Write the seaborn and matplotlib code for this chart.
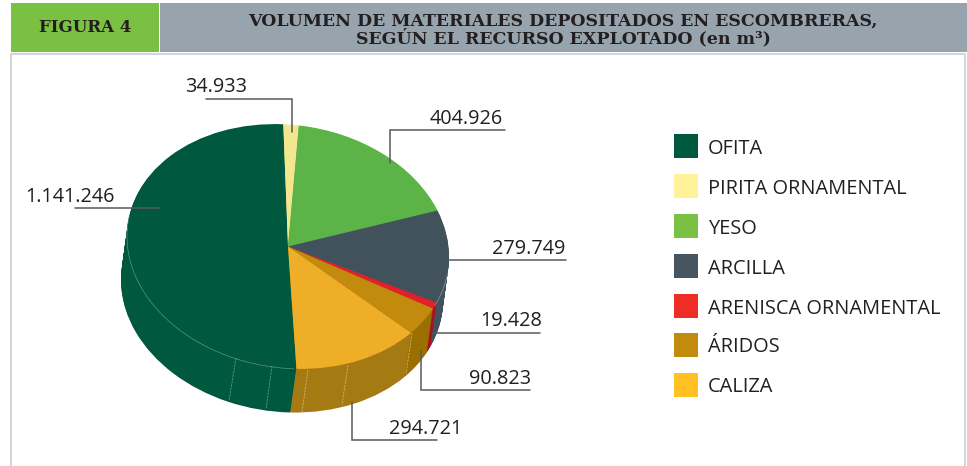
import matplotlib
matplotlib.use('Agg')
import matplotlib.pyplot as plt
import numpy as np
import seaborn as sns
from matplotlib.patches import Rectangle
from matplotlib.transforms import Affine2D

sns.set_theme(style='white')
plt.rcParams['font.family'] = ['Open Sans', 'DejaVu Sans']

W, H = 967, 466

categories = ['OFITA', 'PIRITA ORNAMENTAL', 'YESO', 'ARCILLA',
              'ARENISCA ORNAMENTAL', 'ÁRIDOS', 'CALIZA']
volumes = [1141246, 34933, 404926, 279749, 19428, 90823, 294721]
value_labels = ['1.141.246', '34.933', '404.926', '279.749', '19.428', '90.823', '294.721']

top_colors = ['#00583f', '#f2e68f', '#5cb347', '#41525d', '#e31f2b', '#c38b0e', '#efae27']
side_colors = ['#00583f', '#f2e68f', '#5cb347', '#41525d', '#b00e20', '#9a6f00', '#a67a12']
legend_colors = ['#00583f', '#fff29a', '#7ac143', '#46555f', '#ee2e24', '#c38b0e', '#ffc222']

# pie geometry in pixels
CX, CY, RX, RY = 288, 246.5, 161, 122
DEPTH_X, DEPTH_Y = -6, 44
TILT = 10  # the original ellipse leans a little, right side lower
START = 273


def px_axes(left, top, right, bottom):
    return fig.add_axes([left / W, 1 - bottom / H, (right - left) / W, (bottom - top) / H])


def overlay(z):
    a = fig.add_axes([0, 0, 1, 1])
    a.set_zorder(z)
    a.patch.set_alpha(0)
    a.set_xlim(0, W)
    a.set_ylim(H, 0)
    a.axis('off')
    return a


fig = plt.figure(figsize=(W / 100, H / 100), dpi=100)

# header and frame
bg = overlay(1)
bg.add_patch(Rectangle((11, 3), 148, 49, color='#7ac143', lw=0))
bg.add_patch(Rectangle((160, 3), 807, 49, color='#97a3ad', lw=0))
bg.plot([11, 11, 965, 965], [466, 53.5, 53.5, 466], color='#c5d0da', lw=1.2)
bg.text(85, 28, 'FIGURA 4', ha='center', va='center', fontsize=12, fontweight='bold',
        family='DejaVu Serif', color='#231f20')
bg.text(563, 21, 'VOLUMEN DE MATERIALES DEPOSITADOS EN ESCOMBRERAS,', ha='center', va='center',
        fontsize=12.5, fontweight='bold', family='DejaVu Serif', color='#231f20')
bg.text(563, 38.5, 'SEGÚN EL RECURSO EXPLOTADO (en m³)', ha='center', va='center',
        fontsize=12.5, fontweight='bold', family='DejaVu Serif', color='#231f20')

# 3D pie: stacked pies for the wall, then the top
ax = px_axes(100, 100, 480, 430)
ax.set_zorder(2)
ax.patch.set_alpha(0)
for k in range(DEPTH_Y, 0, -1):
    t = k / DEPTH_Y
    ax.pie(volumes, colors=side_colors, startangle=START, counterclock=False, radius=1,
           center=(DEPTH_X * t / RX, -DEPTH_Y * t / RY),
           wedgeprops=dict(linewidth=0))
ax.pie(volumes, colors=top_colors, startangle=START, counterclock=False, radius=1,
       wedgeprops=dict(linewidth=0))
ax.set_aspect('auto')
ax.set_xlim((100 - CX) / RX, (480 - CX) / RX)
ax.set_ylim((CY - 430) / RY, (CY - 100) / RY)
ax.axis('off')

lean = Affine2D.from_values(1, -TILT / RY, 0, 1, 0, 0) + ax.transData
for w in ax.patches:
    w.set_transform(lean)

# thin light rim on the top face
for a1, a2, col in [(170, 272, '#5a9683'), (-24, -8, '#8a99a3')]:
    ang = np.radians(np.linspace(a1, a2, 80))
    ax.plot(np.cos(ang), np.sin(ang), color=col, lw=0.5, transform=lean)

fg = overlay(3)

# seams on the wall
seams = [
    ([236, 229], [358, 401], '#5a9683'),
    ([272, 266], [366, 409], '#5a9683'),
    ([308, 302], [370, 412], '#cdb06a'),
    ([348, 342], [365, 405], '#cdb06a'),
    ([412, 406], [333, 374], '#cdb06a'),
]
for xs, ys, col in seams:
    fg.plot(xs, ys, color=col, lw=0.6, ls=(0, (3, 1)))

# leader lines and value labels
leaders = [
    ([75, 160], [208, 208], 70, 196.5),
    ([206, 292, 292], [99, 99, 132], 216, 87),
    ([390, 390, 505], [163, 130, 130], 466, 118.5),
    ([449, 566], [260, 260], 529, 248.5),
    ([433, 540], [333, 333], 511, 321.5),
    ([421, 421, 530], [351, 390, 390], 500, 378.5),
    ([352, 352, 437], [402, 440, 440], 426, 428.5),
]
for text, (xs, ys, tx, ty) in zip(value_labels, leaders):
    fg.plot(xs, ys, color='#58595b', lw=1.1, solid_joinstyle='miter')
    fg.text(tx, ty, text, ha='center', va='center', fontsize=14.3, color='#231f20')

# legend
for i, (name, col) in enumerate(zip(categories, legend_colors)):
    y = 134 + 40 * i - (1 if i >= 5 else 0)
    fg.add_patch(Rectangle((674, y), 24, 24, color=col, lw=0))
    fg.text(708, y + 14.5, name, ha='left', va='center', fontsize=14.4, color='#231f20')

fig.savefig('out.png', dpi=100)
